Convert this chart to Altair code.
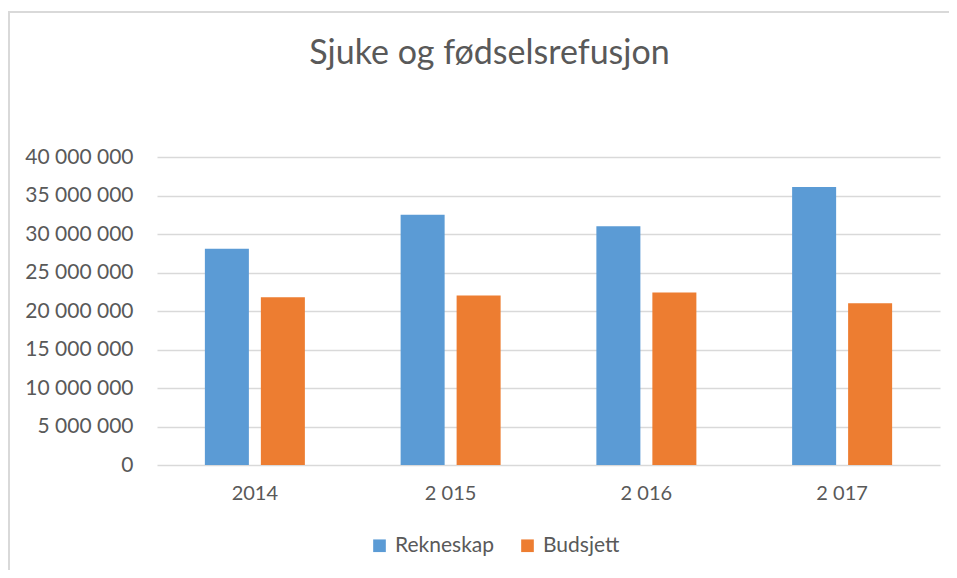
import altair as alt
import pandas as pd

years = ["2014", "2 015", "2 016", "2 017"]
rekneskap = [28_100_000, 32_500_000, 31_000_000, 36_100_000]
budsjett = [21_800_000, 22_000_000, 22_400_000, 21_000_000]
series = ["Rekneskap", "Budsjett"]
colors = ["#5B9BD5", "#ED7D31"]

rows = []
for i, y in enumerate(years):
    rows.append({"year": y, "serie": series[0], "value": rekneskap[i]})
    rows.append({"year": y, "serie": series[1], "value": budsjett[i]})
df = pd.DataFrame(rows)

FONT = "Lato"
TXT = "#595959"

bars = alt.Chart(df).mark_bar().encode(
    x=alt.X("year:N", sort=years, title=None,
            scale=alt.Scale(paddingInner=0, paddingOuter=0),
            axis=alt.Axis(labelAngle=0, labelFontSize=20, labelColor=TXT, labelFont=FONT,
                          ticks=False, domain=False, labelPadding=18, grid=False)),
    xOffset=alt.XOffset("serie:N", sort=series,
                        scale=alt.Scale(paddingInner=0.214, paddingOuter=0.855)),
    y=alt.Y("value:Q", title=None,
            scale=alt.Scale(domain=[0, 40_000_000]),
            axis=alt.Axis(values=list(range(0, 40_000_001, 5_000_000)),
                          labelExpr="replace(format(datum.value, ','), /,/g, ' ')",
                          labelFontSize=21, labelColor=TXT, labelFont=FONT,
                          ticks=False, domain=False, labelPadding=24,
                          gridColor="#d9d9d9", gridWidth=1.4)),
    color=alt.Color("serie:N", sort=series,
                    scale=alt.Scale(domain=series, range=colors),
                    legend=alt.Legend(title=None, orient="none", direction="horizontal",
                                      legendX=212, legendY=378,
                                      symbolType="square", symbolSize=160,
                                      symbolStrokeWidth=0,
                                      labelFontSize=21, labelColor=TXT, labelFont=FONT,
                                      labelOffset=5, columnPadding=22)),
)

frame = alt.Chart(alt.Data(values=[{"a": 1}])).mark_rect(
    fill=None, stroke="#d9d9d9", strokeWidth=2
).encode(
    x=alt.value(-148), x2=alt.value(1200),
    y=alt.value(-145), y2=alt.value(800),
)

chart = alt.layer(frame, bars).properties(
    width=783, height=308,
    padding={"left": 149, "top": 149, "right": 9, "bottom": 105},
    autosize=alt.AutoSizeParams(type="none"),
    title=alt.TitleParams("Sjuke og fødselsrefusjon", font=FONT, fontSize=34,
                          fontWeight="normal", color=TXT, anchor="middle",
                          frame="group", baseline="alphabetic", offset=-87, dx=-59),
).configure_view(stroke=None)

chart.save("out.html", embed_options={"renderer": "svg", "actions": False})
